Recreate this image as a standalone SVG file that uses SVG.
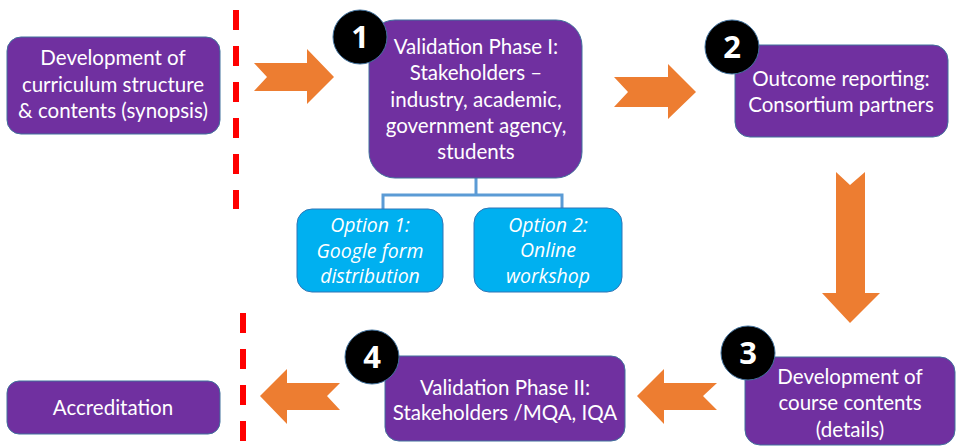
<svg xmlns="http://www.w3.org/2000/svg" width="956" height="448" viewBox="0 0 956 448">
  <style>
    .box { fill: #7030a0; stroke: #41719c; stroke-width: 1; }
    .opt { fill: #00b0f0; stroke: #2e75b6; stroke-width: 1; }
    .lbl { font-family: Lato, "Open Sans", sans-serif; font-size: 20.5px; fill: #ffffff; text-anchor: middle; }
    .olbl { font-family: "Open Sans", Lato, sans-serif; font-size: 19.5px; font-style: italic; fill: #ffffff; text-anchor: middle; }
    .badge { fill: #000000; stroke: #41719c; stroke-width: 1; }
    .num { font-family: "Open Sans", Lato, sans-serif; font-size: 31px; font-weight: bold; fill: #ffffff; text-anchor: middle; }
    .flow { fill: #ed7d31; }
    .tree { fill: none; stroke: #5b9bd5; stroke-width: 3; }
    .divider { stroke: #ff0000; stroke-width: 6; stroke-dasharray: 20 16; }
  </style>

  <!-- phase boundaries -->
  <line class="divider" x1="236" y1="10" x2="236" y2="209"/>
  <line class="divider" x1="243" y1="313" x2="243" y2="448"/>

  <!-- flow arrows and option tree -->
  <g id="connectors">
    <polygon class="flow" points="254,63 307,63 307,49 334,77 307,104 307,91 254,91 267,77"/>
    <polygon class="flow" points="614,77 668,77 668,64 696,92 668,119 668,107 614,107 628,92"/>
    <polygon class="flow" points="836,172 850,185 865,172 865,293 880,293 850,323 822,293 836,293"/>
    <polygon class="flow" points="717,383 664,383 664,369 637,396 664,424 664,410 717,410 703,396"/>
    <polygon class="flow" points="340,383 287,383 287,369 260,396 287,424 287,410 340,410 327,396"/>
    <polyline class="tree" points="476,178 476,195"/>
    <polyline class="tree" points="383,209 383,195 562,195 562,208"/>
  </g>

  <g id="synopsis">
    <rect class="box" x="7" y="37" width="213" height="97" rx="14"/>
    <text class="lbl" x="113" y="65">Development of</text>
    <text class="lbl" x="113" y="92">curriculum structure</text>
    <text class="lbl" x="113" y="118">&amp; contents (synopsis)</text>
  </g>

  <g id="validation-1">
    <rect class="box" x="369" y="20" width="213" height="158" rx="26"/>
    <text class="lbl" x="476" y="54">Validation Phase I:</text>
    <text class="lbl" x="476" y="80">Stakeholders –</text>
    <text class="lbl" x="476" y="107">industry, academic,</text>
    <text class="lbl" x="476" y="133">government agency,</text>
    <text class="lbl" x="476" y="159">students</text>
  </g>
  <g id="badge-1">
    <circle class="badge" cx="360" cy="37" r="27"/>
    <text class="num" x="360" y="48">1</text>
  </g>

  <g id="option-1">
    <rect class="opt" x="297" y="209" width="146" height="83" rx="15"/>
    <text class="olbl" x="370" y="232">Option 1:</text>
    <text class="olbl" x="370" y="258">Google form</text>
    <text class="olbl" x="370" y="283">distribution</text>
  </g>
  <g id="option-2">
    <rect class="opt" x="474" y="208" width="148" height="84" rx="15"/>
    <text class="olbl" x="548" y="232">Option 2:</text>
    <text class="olbl" x="548" y="257">Online</text>
    <text class="olbl" x="548" y="283">workshop</text>
  </g>

  <g id="outcome">
    <rect class="box" x="735" y="45" width="213" height="92" rx="15"/>
    <text class="lbl" x="841" y="86">Outcome reporting:</text>
    <text class="lbl" x="841" y="112">Consortium partners</text>
  </g>
  <g id="badge-2">
    <circle class="badge" cx="732" cy="47" r="27"/>
    <text class="num" x="732" y="58">2</text>
  </g>

  <g id="course-contents">
    <rect class="box" x="745" y="357" width="210" height="88" rx="15"/>
    <text class="lbl" x="850" y="384">Development of</text>
    <text class="lbl" x="850" y="410">course contents</text>
    <text class="lbl" x="850" y="437">(details)</text>
  </g>
  <g id="badge-3">
    <circle class="badge" cx="748" cy="353" r="27"/>
    <text class="num" x="748" y="364">3</text>
  </g>

  <g id="validation-2">
    <rect class="box" x="385" y="356" width="240" height="85" rx="14"/>
    <text class="lbl" x="505" y="395">Validation Phase II:</text>
    <text class="lbl" x="505" y="420">Stakeholders /MQA, IQA</text>
  </g>
  <g id="badge-4">
    <circle class="badge" cx="372" cy="357" r="27"/>
    <text class="num" x="372" y="368">4</text>
  </g>

  <g id="accreditation">
    <rect class="box" x="7" y="381" width="213" height="53" rx="12"/>
    <text class="lbl" x="113" y="415">Accreditation</text>
  </g>
</svg>
